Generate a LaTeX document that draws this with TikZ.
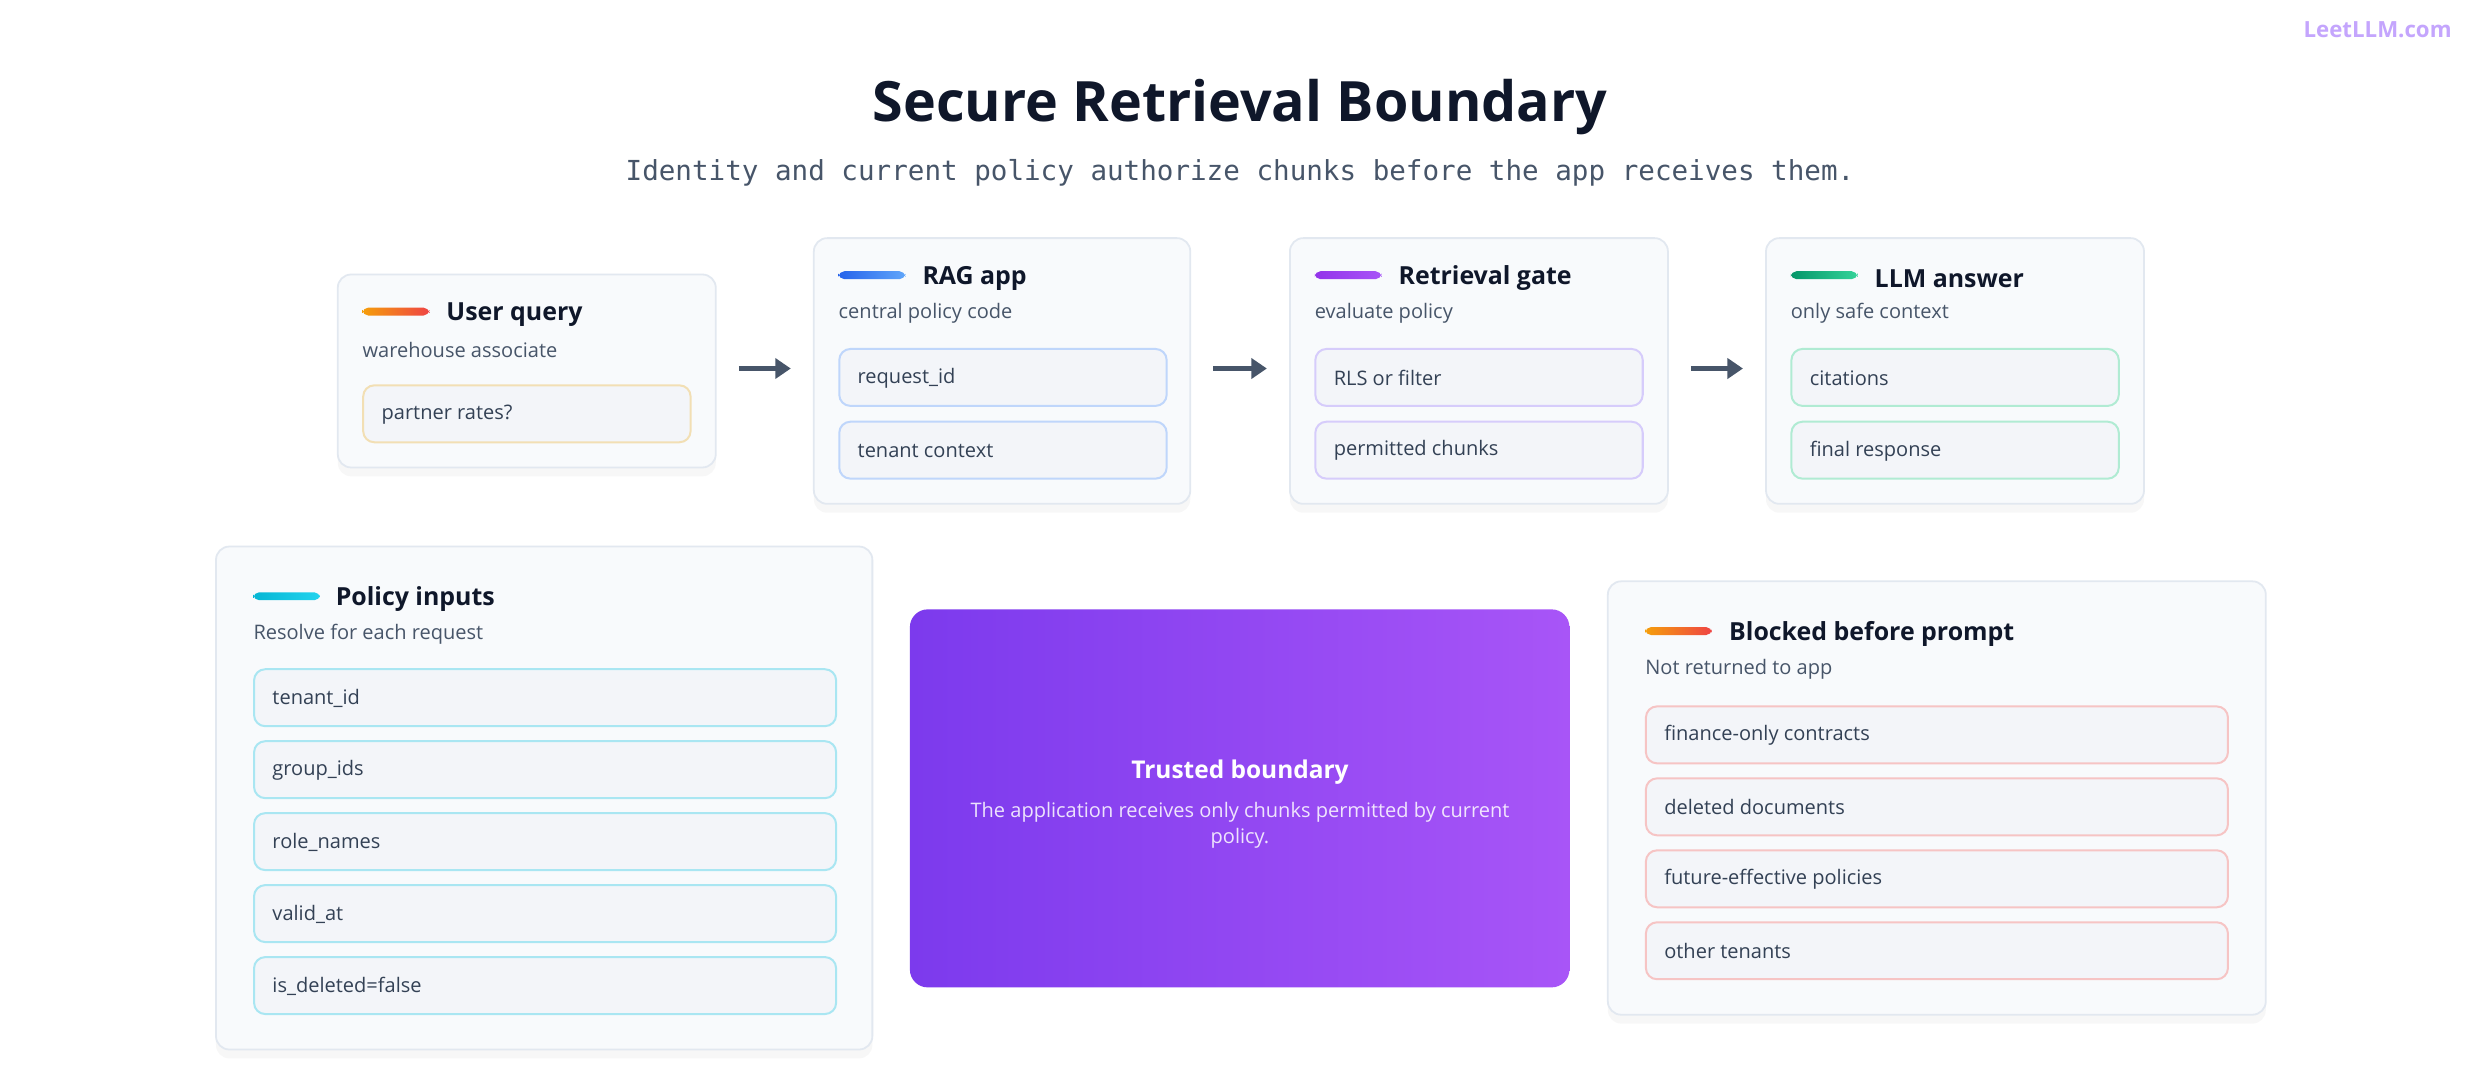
\documentclass[tikz,border=0pt]{standalone}
\usepackage{fontspec}
\setmainfont{Open Sans}
\setmonofont{DejaVu Sans Mono}
\usetikzlibrary{shadows,arrows.meta}
\definecolor{ink}{HTML}{0F172A}
\definecolor{slate}{HTML}{475569}
\definecolor{itemtext}{HTML}{334155}
\definecolor{cardfill}{HTML}{F8FAFC}
\definecolor{cardline}{HTML}{E2E8F0}
\definecolor{itemfill}{HTML}{F3F5F9}
\definecolor{arrowc}{HTML}{475569}
\definecolor{amberline}{HTML}{F2DFB4}
\definecolor{blueline}{HTML}{BFD6FB}
\definecolor{purpleline}{HTML}{D6CCFB}
\definecolor{greenline}{HTML}{B0EBD3}
\definecolor{cyanline}{HTML}{A9E6F2}
\definecolor{redline}{HTML}{F6C4C4}
\definecolor{orangeA}{HTML}{F59E0B}\definecolor{orangeB}{HTML}{EF4444}
\definecolor{blueA}{HTML}{2563EB}\definecolor{blueB}{HTML}{60A5FA}
\definecolor{purpA}{HTML}{9333EA}\definecolor{purpB}{HTML}{A855F7}
\definecolor{greenA}{HTML}{059669}\definecolor{greenB}{HTML}{34D399}
\definecolor{cyanA}{HTML}{06B6D4}\definecolor{cyanB}{HTML}{22D3EE}
\definecolor{violA}{HTML}{7C3AED}\definecolor{violB}{HTML}{A855F7}
\definecolor{mark}{HTML}{C4A5FD}
\def\u{0.025cm}
\begin{document}
\begin{tikzpicture}[x=0.025cm, y=-0.025cm]
    \tikzstyle{card}  = [rectangle, draw=cardline, line width=0.8pt, fill=cardfill, rounded corners=6pt, anchor=north west, inner sep=0pt, drop shadow={opacity=0.06, shadow xshift=0pt, shadow yshift=-4pt}]
    \tikzstyle{item}  = [rectangle, line width=0.9pt, fill=itemfill, rounded corners=5pt, anchor=north west, inner sep=0pt, minimum height=36*\u]
    \tikzstyle{itemtext} = [anchor=west, font=\fontsize{9}{11}\selectfont, text=itemtext, inner sep=0pt]
    \tikzstyle{bar}   = [rectangle, rounded corners=2.5pt, minimum width=42*\u, minimum height=5*\u, inner sep=0pt, anchor=west]
    \tikzstyle{ctitle} = [anchor=west, font=\fontsize{11.2}{13}\selectfont\bfseries, text=ink, inner sep=0pt]
    \tikzstyle{csub}  = [anchor=west, font=\fontsize{9}{11}\selectfont, text=slate, inner sep=0pt]
    \tikzstyle{line}  = [draw=arrowc, line width=2pt, -{Triangle[length=7pt, width=9pt]}, shorten <=14*\u, shorten >=14*\u]

    \useasboundingbox [fill=white] (0,0) rectangle (1568,674);

    % Heading
    \node [font=\fontsize{25}{30}\selectfont\bfseries, text=ink] (title) at (784,68) {Secure Retrieval Boundary};
    \node [font=\fontsize{12.4}{14}\selectfont\ttfamily, text=slate] (subtitle) at (784,109) {Identity and current policy authorize chunks before the app receives them.};
    \node [anchor=east, font=\fontsize{10}{12}\selectfont\bfseries, text=mark] (brand) at (1555,19) {LeetLLM.com};

    % Top row cards
    \node [card, minimum width=239*\u, minimum height=122*\u] (query) at (213,173) {};
    \node [bar, left color=orangeA, right color=orangeB] at (229,197) {};
    \node [ctitle] at (282,199) {User query};
    \node [csub] at (229,221) {warehouse associate};
    \node [item, draw=amberline, minimum width=207*\u] (q1) at (229,243) {};
    \node [itemtext] at (241,262) {partner rates?};

    \node [card, minimum width=238*\u, minimum height=168*\u] (rag) at (514,150) {};
    \node [bar, left color=blueA, right color=blueB] at (530,174) {};
    \node [ctitle] at (583,176) {RAG app};
    \node [csub] at (530,198) {central policy code};
    \foreach \t [count=\i] in {request\_id, tenant context}
        \node [item, draw=blueline, minimum width=207*\u] at (530,174+46*\i) {}
              node [itemtext] at (542,193+46*\i) {\t};

    \node [card, minimum width=239*\u, minimum height=168*\u] (gate) at (815,150) {};
    \node [bar, left color=purpA, right color=purpB] at (831,174) {};
    \node [ctitle] at (884,176) {Retrieval gate};
    \node [csub] at (831,198) {evaluate policy};
    \foreach \t [count=\i] in {RLS or filter, permitted chunks}
        \node [item, draw=purpleline, minimum width=207*\u] at (831,174+46*\i) {}
              node [itemtext] at (843,193+46*\i) {\t};

    \node [card, minimum width=239*\u, minimum height=168*\u] (answer) at (1116,150) {};
    \node [bar, left color=greenA, right color=greenB] at (1132,174) {};
    \node [ctitle] at (1185,176) {LLM answer};
    \node [csub] at (1132,198) {only safe context};
    \foreach \t [count=\i] in {citations, final response}
        \node [item, draw=greenline, minimum width=207*\u] at (1132,174+46*\i) {}
              node [itemtext] at (1144,193+46*\i) {\t};

    % Bottom row
    \node [card, minimum width=415*\u, minimum height=318*\u] (policy) at (136,345) {};
    \node [bar, left color=cyanA, right color=cyanB] at (160,377) {};
    \node [ctitle] at (212,379) {Policy inputs};
    \node [csub] at (160,401) {Resolve for each request};
    \foreach \t [count=\i] in {tenant\_id, group\_ids, role\_names, valid\_at, is\_deleted=false}
        \node [item, draw=cyanline, minimum width=368*\u] at (160,377+45.5*\i) {}
              node [itemtext] at (172,396+45.5*\i) {\t};

    \node [rectangle, rounded corners=8pt, anchor=north west, inner sep=0pt, minimum width=417*\u, minimum height=239*\u, left color=violA, right color=violB] (trusted) at (575,385) {};
    \node [font=\fontsize{11}{13}\selectfont\bfseries, text=white] at (784,488) {Trusted boundary};
    \node [font=\fontsize{9}{12}\selectfont, text=white, text opacity=0.85, align=center, anchor=north] at (784,502) {The application receives only chunks permitted by current\\policy.};

    \node [card, minimum width=416*\u, minimum height=274*\u] (blocked) at (1016,367) {};
    \node [bar, left color=orangeA, right color=orangeB] at (1040,399) {};
    \node [ctitle] at (1093,401) {Blocked before prompt};
    \node [csub] at (1040,423) {Not returned to app};
    \foreach \t [count=\i] in {finance-only contracts, deleted documents, future-effective policies, other tenants}
        \node [item, draw=redline, minimum width=368*\u] at (1040,400.5+45.5*\i) {}
              node [itemtext] at (1052,419.5+45.5*\i) {\t};

    % Flow
    \path [line] (query.east |- 0,233) -- (rag.west |- 0,233);
    \path [line] (rag.east |- 0,233) -- (gate.west |- 0,233);
    \path [line] (gate.east |- 0,233) -- (answer.west |- 0,233);
\end{tikzpicture}
\end{document}
